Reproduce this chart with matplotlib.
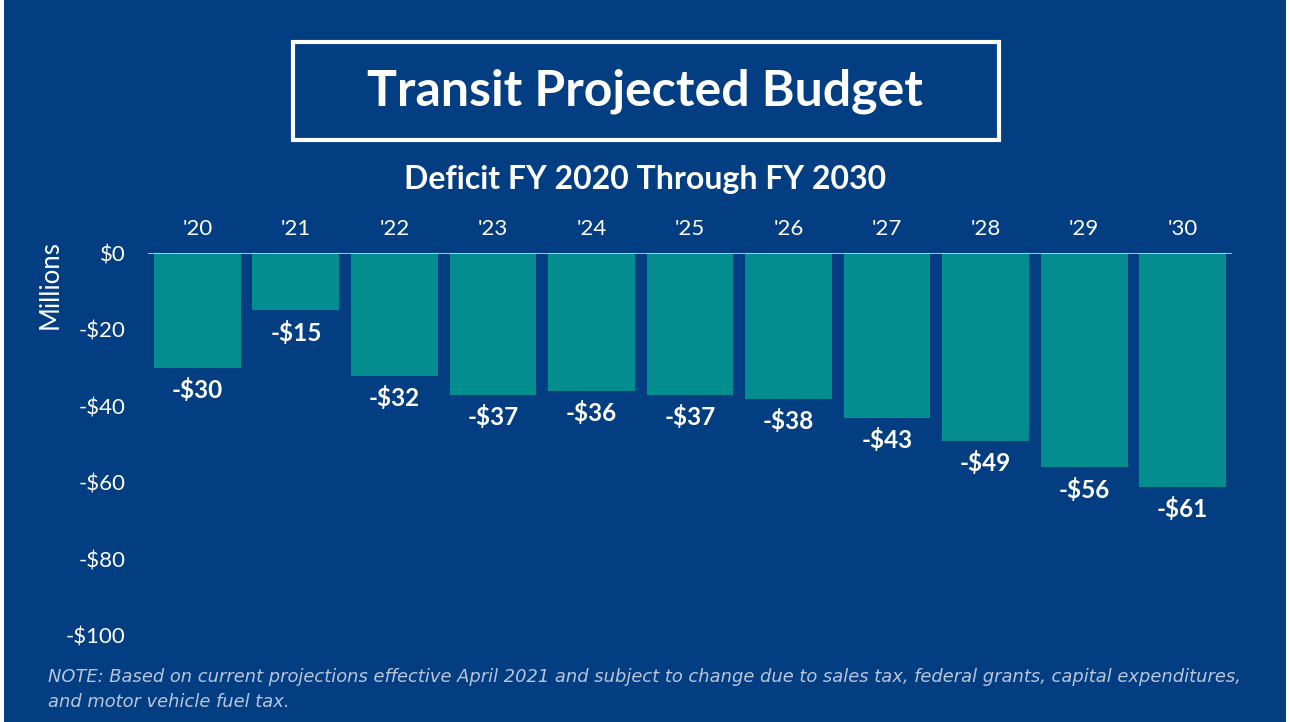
import numpy as np
import matplotlib.pyplot as plt
from matplotlib.patches import Rectangle

years = ["'20", "'21", "'22", "'23", "'24", "'25", "'26", "'27", "'28", "'29", "'30"]
deficit = [-30, -15, -32, -37, -36, -37, -38, -43, -49, -56, -61]
labels = ["-$30", "-$15", "-$32", "-$37", "-$36", "-$37", "-$38", "-$43", "-$49", "-$56", "-$61"]
y_ticks = [0, -20, -40, -60, -80, -100]
y_tick_labels = ["$0", "-$20", "-$40", "-$60", "-$80", "-$100"]

BG = "#033e82"
BAR = "#048d8e"
NOTE = "#b9c5da"

plt.rcParams["font.family"] = ["Lato", "DejaVu Sans"]

W, H = 1290, 722
fig = plt.figure(figsize=(W / 100, H / 100), dpi=100)
fig.patch.set_facecolor(BG)
# thin white strips at the slide edges
fig.patches.append(Rectangle((0, 0), 4 / W, 1, transform=fig.transFigure,
                             facecolor="white", edgecolor="none", zorder=-5))
fig.patches.append(Rectangle((1 - 4 / W, 0), 4 / W, 1, transform=fig.transFigure,
                             facecolor="white", edgecolor="none", zorder=-5))

# title box
fig.patches.append(Rectangle((293 / W, 1 - 140 / H), 706 / W, 98 / H, transform=fig.transFigure,
                             facecolor="none", edgecolor="white", linewidth=3, zorder=-4))
fig.text(645 / W, 1 - 91 / H, "Transit Projected Budget", color="white", fontsize=36,
         fontweight="bold", ha="center", va="center")
fig.text(645 / W, 1 - 180 / H, "Deficit FY 2020 Through FY 2030", color="white", fontsize=23,
         fontweight="bold", ha="center", va="center")

ax = fig.add_axes([148 / W, 1 - 636 / H, (1232 - 148) / W, (636 - 253) / H])
ax.set_facecolor("none")
x = np.arange(len(years))
ax.bar(x, deficit, width=0.88, color=BAR, zorder=2)
ax.axhline(0, color="#d9d9d9", linewidth=1.2, zorder=3)
for xi, v, lab in zip(x, deficit, labels):
    ax.annotate(lab, (xi, v), xytext=(0, -16), textcoords="offset points", ha="center",
                va="center", color="white", fontsize=17.5, fontweight="bold")

ax.set_xlim(-0.5, len(years) - 0.5)
ax.set_ylim(-100, 0)
ax.xaxis.tick_top()
ax.set_xticks(x)
ax.set_xticklabels(years, color="white", fontsize=16)
ax.set_yticks(y_ticks)
ax.set_yticklabels(y_tick_labels, color="white", fontsize=16)
ax.tick_params(axis="both", length=0)
ax.tick_params(axis="x", pad=10)
ax.tick_params(axis="y", pad=16)
for s in ax.spines.values():
    s.set_visible(False)
fig.text(50 / W, 1 - 285 / H, "Millions", color="white", fontsize=18.5, rotation=90,
         ha="center", va="center")

note_font = dict(color=NOTE, fontsize=12.85, style="italic", ha="left", va="center",
                 family=["DejaVu Sans"])
fig.text(48 / W, 1 - 677 / H,
         "NOTE: Based on current projections effective April 2021 and subject to change due to sales tax, federal grants, capital expenditures,",
         **note_font)
fig.text(48 / W, 1 - 702 / H, "and motor vehicle fuel tax.", **note_font)

fig.savefig("out.png", dpi=100, facecolor=fig.get_facecolor())
